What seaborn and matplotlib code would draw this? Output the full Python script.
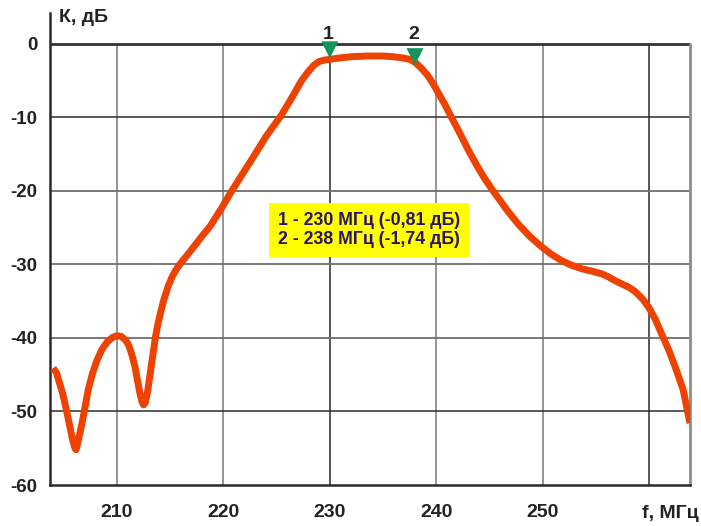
import matplotlib
matplotlib.use("Agg")
import matplotlib.pyplot as plt
import seaborn as sns
import pandas as pd

# frequency response
freq_mhz = [204.0, 204.3, 204.9, 205.3, 205.6, 205.85, 206.05, 206.15, 206.3, 206.7,
            207.3, 207.7, 208.1, 208.6, 209.1, 209.6, 210.0, 210.4, 210.8, 211.1,
            211.4, 211.7, 211.9, 212.15, 212.35, 212.5, 212.65, 212.85, 213.0, 213.3,
            213.6, 213.8, 214.1, 214.4, 214.8, 215.2, 215.6, 216.0, 216.5, 217.0,
            217.8, 218.8, 219.8, 220.7, 221.7, 222.8, 224.0, 225.4, 226.4, 227.3,
            227.9, 228.5, 229.0, 229.5, 230.0, 231.0, 232.0, 233.5, 235.0, 236.0,
            236.8, 237.5, 238.0, 238.6, 239.2, 239.7, 240.2, 240.8, 241.4, 242.2,
            243.0, 243.8, 244.5, 245.2, 245.8, 246.7, 247.7, 248.8, 249.9, 250.8,
            251.8, 252.7, 253.7, 254.6, 255.6, 256.2, 256.8, 257.5, 258.1, 258.7,
            259.4, 260.0, 260.6, 261.2, 261.9, 262.5, 263.2, 263.85]
gain_db = [-44.1, -44.7, -47.6, -50.2, -52.3, -54.0, -55.0, -55.2, -54.3, -51.7,
           -47.0, -44.8, -43.1, -41.5, -40.5, -39.9, -39.7, -39.8, -40.3, -41.0,
           -42.3, -44.0, -45.6, -47.5, -48.7, -49.1, -48.8, -47.5, -46.0, -43.0,
           -40.0, -38.4, -36.5, -34.8, -33.0, -31.6, -30.6, -29.8, -28.9, -28.0,
           -26.5, -24.7, -22.4, -20.2, -17.9, -15.4, -12.6, -9.8, -7.4, -5.1,
           -3.9, -2.9, -2.4, -2.2, -2.1, -1.9, -1.75, -1.65, -1.65, -1.75,
           -1.9, -2.1, -2.5, -3.3, -4.3, -5.4, -6.7, -8.2, -9.9, -12.1,
           -14.4, -16.5, -18.2, -19.7, -20.9, -22.7, -24.5, -26.2, -27.6, -28.6,
           -29.5, -30.1, -30.6, -30.9, -31.3, -31.7, -32.2, -32.7, -33.1, -33.7,
           -34.7, -35.9, -37.5, -39.5, -41.8, -44.1, -47.0, -51.6]

marker_names = ["1", "2"]
marker_mhz = [230, 238]
marker_db = [-0.81, -1.74]

x_ticks = [210, 220, 230, 240, 250]
y_ticks = [0, -10, -20, -30, -40, -50, -60]

legend_lines = ["1 - 230 МГц (-0,81 дБ)", "2 - 238 МГц (-1,74 дБ)"]

sns.set_theme(style="white")
plt.rcParams["font.family"] = ["Liberation Sans", "DejaVu Sans"]
plt.rcParams["font.weight"] = "bold"

fig = plt.figure(figsize=(7.01, 5.26), dpi=100)
ax = fig.add_axes([50 / 701, 1 - 485 / 526, 640 / 701, 472 / 526])

x_lo, x_hi = 203.7, 263.85
ax.set_xlim(x_lo, x_hi)
ax.set_ylim(-60, 4.2)

# grid lines, some darker than others like in the original
dark_v, grey_v = [230, 260], [210, 220, 240, 250]
dark_h, grey_h = [-10, -50], [-20, -30, -40]
for v in grey_v:
    ax.plot([v, v], [-60, 0], color="#8c8c8c", lw=1.3, zorder=1)
for v in dark_v:
    ax.plot([v, v], [-60, 0], color="#3a3a3a", lw=1.2, zorder=1)
for h in grey_h:
    ax.axhline(h, color="#6e6e6e", lw=1.3, zorder=1)
for h in dark_h:
    ax.axhline(h, color="#2e2e2e", lw=1.1, zorder=1)
ax.axhline(0, color="#333333", lw=2.0, zorder=1)
ax.plot([x_hi, x_hi], [-60, 0], color="#8c8c8c", lw=2.0, zorder=1, clip_on=False)

df = pd.DataFrame({"f": freq_mhz, "k": gain_db})
sns.lineplot(data=df, x="f", y="k", ax=ax, color="#EE4200", lw=5.0,
             solid_joinstyle="round", solid_capstyle="butt", zorder=3, sort=False)

mk = pd.DataFrame({"f": marker_mhz, "k": marker_db})
sns.scatterplot(data=mk, x="f", y="k", ax=ax, marker="v", s=150, color="#16955A",
                edgecolor="none", zorder=4, clip_on=False)
for name, f, k in zip(marker_names, marker_mhz, marker_db):
    ax.text(f - 0.15, 1.3, name, ha="center", va="center", fontsize=14,
            fontweight="bold", color="#222222")

ax.text(233.7, -25.3, "\n".join(legend_lines), ha="center", va="center",
        fontsize=12.8, fontweight="bold", color="#2B1468", linespacing=1.2,
        bbox=dict(boxstyle="square,pad=0.5", fc="#FFFF00", ec="none"), zorder=5)

ax.set_xticks(x_ticks)
ax.set_yticks(y_ticks)
ax.set_xticklabels([str(t) for t in x_ticks], fontsize=14, fontweight="bold", color="#222222")
ax.set_yticklabels([str(t) for t in y_ticks], fontsize=13.5, fontweight="bold", color="#222222")
ax.tick_params(axis="x", length=0, pad=14)
ax.tick_params(axis="y", length=0, pad=9)
ax.set_xlabel("")
ax.set_ylabel("")

for side in ["top", "right"]:
    ax.spines[side].set_visible(False)
ax.spines["left"].set_color("#2a2a2a")
ax.spines["left"].set_linewidth(1.8)
ax.spines["bottom"].set_color("#2a2a2a")
ax.spines["bottom"].set_linewidth(1.8)

fig.text(59 / 701, 1 - 17 / 526, "К, дБ", ha="left", va="center", fontsize=14,
         fontweight="bold", color="#222222")
fig.text(670 / 701, 1 - 514 / 526, "f, МГц", ha="center", va="center", fontsize=14,
         fontweight="bold", color="#222222")

fig.savefig("out.png", dpi=100)
